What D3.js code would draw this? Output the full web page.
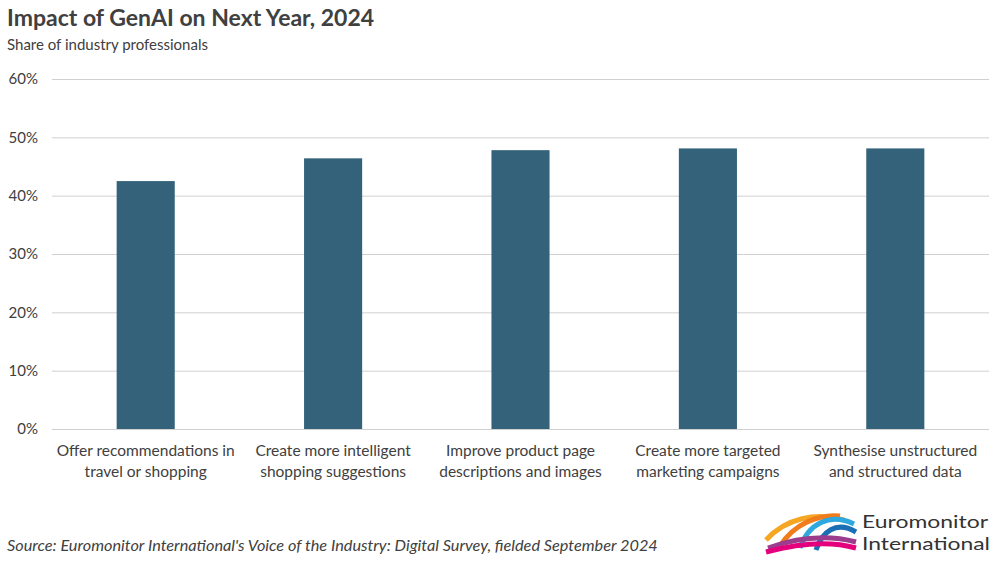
<!DOCTYPE html>
<html lang="en">
<head>
    <title>Impact of GenAI on Next Year, 2024</title>
    <script src="https://d3js.org/d3.v7.min.js"></script>
    <style>
        body { margin: 0; background: #fff; }
        svg text { font-family: Lato, "Open Sans", sans-serif; }
    </style>
</head>
<body>
    <svg id="chart"></svg>

    <script>
        var categories = [
            ["Offer recommendations in", "travel or shopping"],
            ["Create more intelligent", "shopping suggestions"],
            ["Improve product page", "descriptions and images"],
            ["Create more targeted", "marketing campaigns"],
            ["Synthesise unstructured", "and structured data"]
        ];
        var values = [42.5, 46.4, 47.8, 48.1, 48.1];
        var yTicks = [0, 10, 20, 30, 40, 50, 60];

        var width = 1000, height = 562;
        var margin = { top: 79, right: 11, bottom: 133, left: 52 };
        var innerW = width - margin.left - margin.right;
        var innerH = height - margin.top - margin.bottom;

        var svg = d3.select("#chart")
            .attr("width", width)
            .attr("height", height);

        // titles
        svg.append("text")
            .attr("x", 7).attr("y", 26)
            .style("font-size", "23px").style("font-weight", "bold")
            .style("fill", "#404040")
            .text("Impact of GenAI on Next Year, 2024");
        svg.append("text")
            .attr("x", 7).attr("y", 50)
            .style("font-size", "15px")
            .style("fill", "#404040")
            .text("Share of industry professionals");

        var g = svg.append("g")
            .attr("transform", "translate(" + margin.left + "," + margin.top + ")");

        var x = d3.scaleBand()
            .domain(d3.range(categories.length))
            .range([0, innerW])
            .paddingInner(0.69)
            .paddingOuter(0.345);
        var y = d3.scaleLinear().domain([0, 60]).range([innerH, 0]);

        // gridlines + y labels
        var yAxis = g.append("g")
            .call(d3.axisLeft(y).tickValues(yTicks).tickSize(-innerW)
                .tickFormat(function (d) { return d + "%"; }));
        yAxis.select(".domain").remove();
        yAxis.selectAll(".tick line").attr("stroke", "#d0d0d0").attr("stroke-width", 1);
        yAxis.selectAll(".tick text")
            .attr("x", -14)
            .style("font-size", "15px")
            .style("fill", "#404040");

        g.selectAll(".bar")
            .data(values)
            .enter().append("rect")
            .attr("class", "bar")
            .attr("x", function (d, i) { return x(i); })
            .attr("width", x.bandwidth())
            .attr("y", function (d) { return y(d); })
            .attr("height", function (d) { return innerH - y(d); })
            .attr("fill", "#33627a");

        // x labels
        var xl = g.append("g")
            .call(d3.axisBottom(x).tickSize(0).tickFormat(""))
            .attr("transform", "translate(0," + innerH + ")");
        xl.select(".domain").remove();
        xl.selectAll(".tick").each(function (d) {
            var t = d3.select(this).append("text")
                .attr("text-anchor", "middle")
                .style("font-size", "15.5px")
                .style("fill", "#404040");
            categories[d].forEach(function (line, k) {
                t.append("tspan").attr("x", 0).attr("y", 27 + k * 21).text(line);
            });
        });

        // source
        svg.append("text")
            .attr("x", 7).attr("y", 551)
            .style("font-size", "16.3px").style("font-style", "italic")
            .style("fill", "#404040")
            .text("Source: Euromonitor International's Voice of the Industry: Digital Survey, fielded September 2024");

        // logo
        var logo = svg.append("g").attr("transform", "translate(766,510)");
        var arcs = [
            { c: "#f5a623", d: "M0,30 C20,8 50,2 78,10" },
            { c: "#f07c1c", d: "M14,36 C28,14 52,4 74,6" },
            { c: "#2fa8df", d: "M34,38 C42,14 64,2 88,14" },
            { c: "#1a6fb5", d: "M50,40 C56,22 70,10 90,22" },
            { c: "#9b3d8c", d: "M2,38 C30,28 60,24 90,32" },
            { c: "#e4007c", d: "M0,42 C30,34 62,30 90,38" }
        ];
        logo.selectAll("path").data(arcs).enter().append("path")
            .attr("d", function (d) { return d.d; })
            .attr("fill", "none")
            .attr("stroke", function (d) { return d.c; })
            .attr("stroke-width", 5)
            .attr("stroke-linecap", "butt");
        svg.append("text").attr("x", 862).attr("y", 528)
            .style("font-size", "17px").style("fill", "#333")
            .attr("textLength", 126).attr("lengthAdjust", "spacingAndGlyphs")
            .text("Euromonitor");
        svg.append("text").attr("x", 862).attr("y", 550)
            .style("font-size", "17px").style("fill", "#333")
            .attr("textLength", 128).attr("lengthAdjust", "spacingAndGlyphs")
            .text("International");
    </script>
</body>
</html>
